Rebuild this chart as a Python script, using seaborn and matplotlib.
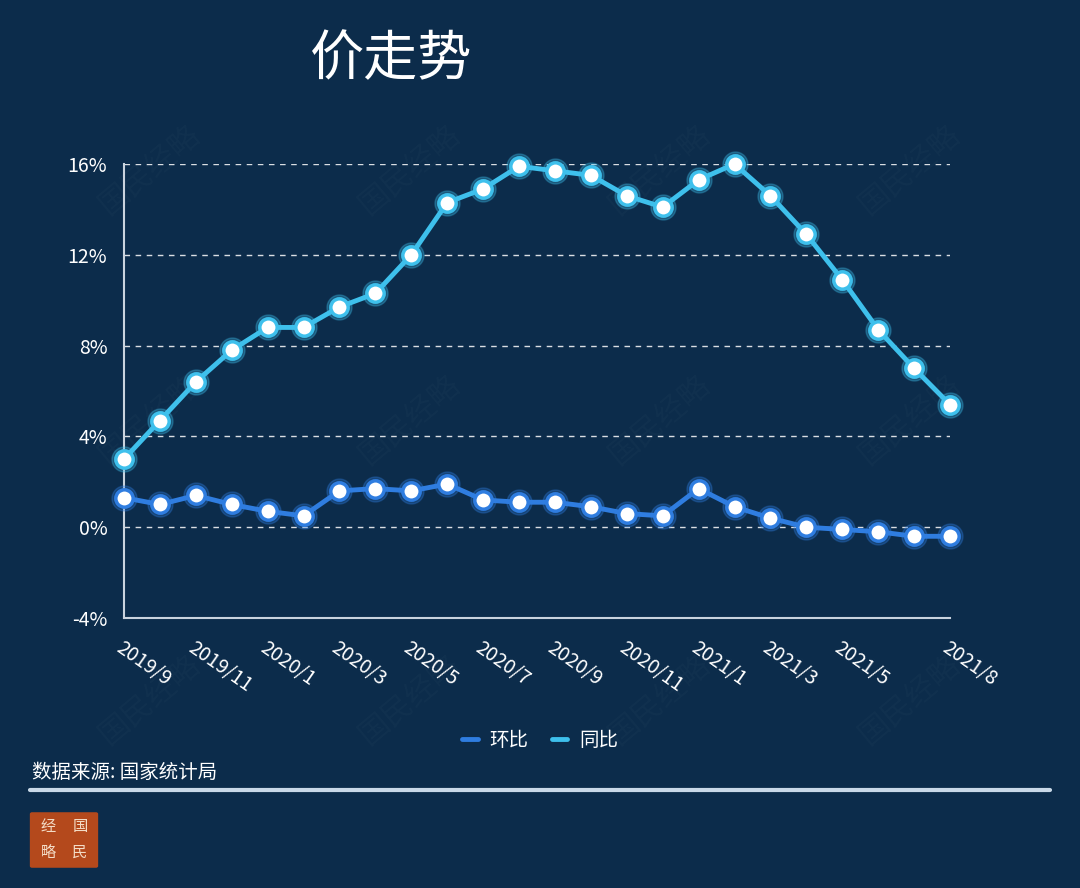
import matplotlib
matplotlib.use("Agg")
import matplotlib.pyplot as plt
import seaborn as sns
import pandas as pd
import numpy as np
from matplotlib.patches import FancyBboxPatch
from matplotlib.lines import Line2D

months = ["2019/9", "2019/10", "2019/11", "2019/12",
          "2020/1", "2020/2", "2020/3", "2020/4", "2020/5", "2020/6",
          "2020/7", "2020/8", "2020/9", "2020/10", "2020/11", "2020/12",
          "2021/1", "2021/2", "2021/3", "2021/4", "2021/5", "2021/6",
          "2021/7", "2021/8"]
mom = [1.3, 1.0, 1.4, 1.0, 0.7, 0.5, 1.6, 1.7, 1.6, 1.9, 1.2, 1.1,
       1.1, 0.9, 0.6, 0.5, 1.7, 0.9, 0.4, 0.0, -0.1, -0.2, -0.4, -0.4]
yoy = [3.0, 4.7, 6.4, 7.8, 8.8, 8.8, 9.7, 10.3, 12.0, 14.3, 14.9, 15.9,
       15.7, 15.5, 14.6, 14.1, 15.3, 16.0, 14.6, 12.9, 10.9, 8.7, 7.0, 5.4]
series_names = ["环比", "同比"]
tick_labels = ["2019/9", "2019/11", "2020/1", "2020/3", "2020/5", "2020/7",
               "2020/9", "2020/11", "2021/1", "2021/3", "2021/5", "2021/8"]
y_ticks = [-4, 0, 4, 8, 12, 16]

BG = "#0c2c4b"
C_MOM = "#2f7de0"
C_YOY = "#3ec0ec"
FONT = ["Noto Sans CJK SC", "DejaVu Sans"]

sns.set_theme(style="dark")
plt.rcParams["font.family"] = FONT
plt.rcParams["axes.unicode_minus"] = False

idx = np.arange(len(months))
df = pd.DataFrame({
    "idx": np.concatenate([idx, idx]),
    "value": mom + yoy,
    "series": [series_names[0]] * len(mom) + [series_names[1]] * len(yoy),
})

fig = plt.figure(figsize=(10.8, 8.88), dpi=100, facecolor=BG)
ax = fig.add_axes([124 / 1080, 1 - 618 / 888, (950 - 124) / 1080, (618 - 164) / 888])
ax.set_facecolor(BG)

# glow underlay
for name, col in zip(series_names, [C_MOM, C_YOY]):
    sub = df[df.series == name]
    ax.plot(sub.idx, sub.value, linestyle="none", marker="o", markersize=18,
            color=col, alpha=0.3, zorder=3, clip_on=False)

sns.lineplot(data=df, x="idx", y="value", hue="series",
             palette={series_names[0]: C_MOM, series_names[1]: C_YOY},
             linewidth=3.5, marker="o", markersize=12.5,
             markerfacecolor="white", markeredgewidth=2.5,
             ax=ax, legend=False, zorder=4)
for line, col in zip(ax.get_lines()[2:], [C_MOM, C_YOY]):
    line.set_markeredgecolor(col)
    line.set_clip_on(False)

ax.set_xlim(0, len(months) - 1)
ax.set_ylim(-4, 16)
ax.set_yticks(y_ticks)
ax.set_yticklabels([f"{v}%" for v in y_ticks], color="white", fontsize=14)
pos = [months.index(t) for t in tick_labels]
ax.set_xticks(pos)
ax.set_xticklabels(tick_labels, rotation=-35, ha="left", va="top",
                   rotation_mode="anchor", color="white", fontsize=14)
ax.tick_params(axis="x", length=6, width=1.2, color="#c9d3de", pad=8)
ax.tick_params(axis="y", length=0, pad=12)
ax.set_xlabel("")
ax.set_ylabel("")
ax.grid(False)
for v in y_ticks[1:]:
    ax.axhline(v, color="white", linestyle=(0, (4, 4)), linewidth=1, alpha=0.85, zorder=1)
for s in ["top", "right"]:
    ax.spines[s].set_visible(False)
for s in ["left", "bottom"]:
    ax.spines[s].set_visible(True)
    ax.spines[s].set_color("#c9d3de")
    ax.spines[s].set_linewidth(1.5)

# title
fig.text(310 / 1080, 1 - 60 / 888, "价走势", color="white", fontsize=39,
         ha="left", va="center")

# legend
handles = [Line2D([0], [0], color=C_MOM, linewidth=3.5),
           Line2D([0], [0], color=C_YOY, linewidth=3.5)]
fig.legend(handles, series_names, loc="center", bbox_to_anchor=(0.5, 1 - 740 / 888),
           ncol=2, frameon=False, fontsize=14, labelcolor="white",
           handlelength=0.8, columnspacing=1.2, handletextpad=0.6)

# source
fig.text(32 / 1080, 1 - 772 / 888, "数据来源: 国家统计局", color="white",
         fontsize=14, ha="left", va="center", fontweight="medium")
fig.add_artist(Line2D([30 / 1080, 1050 / 1080], [1 - 790 / 888, 1 - 790 / 888],
                      color="#c9d9e8", linewidth=3))

# logo
fig.add_artist(FancyBboxPatch((32 / 1080, 1 - 866 / 888), 64 / 1080, 52 / 888,
                              boxstyle="round,pad=0.002", facecolor="#b4491c",
                              edgecolor="none", transform=fig.transFigure))
for (x, y, ch) in [(48, 826, "经"), (80, 826, "国"), (48, 852, "略"), (80, 852, "民")]:
    fig.text(x / 1080, 1 - y / 888, ch, color="#f3dcc6", fontsize=11,
             ha="center", va="center")

# watermarks
for (x, y) in [(150, 170), (410, 170), (660, 170), (910, 170),
               (150, 420), (410, 420), (660, 420), (910, 420),
               (150, 700), (410, 700), (660, 700), (910, 700)]:
    fig.text(x / 1080, 1 - y / 888, "国民经略", color="white", alpha=0.025,
             fontsize=22, rotation=40, ha="center", va="center")

fig.savefig("out.png", dpi=100, facecolor=BG)
